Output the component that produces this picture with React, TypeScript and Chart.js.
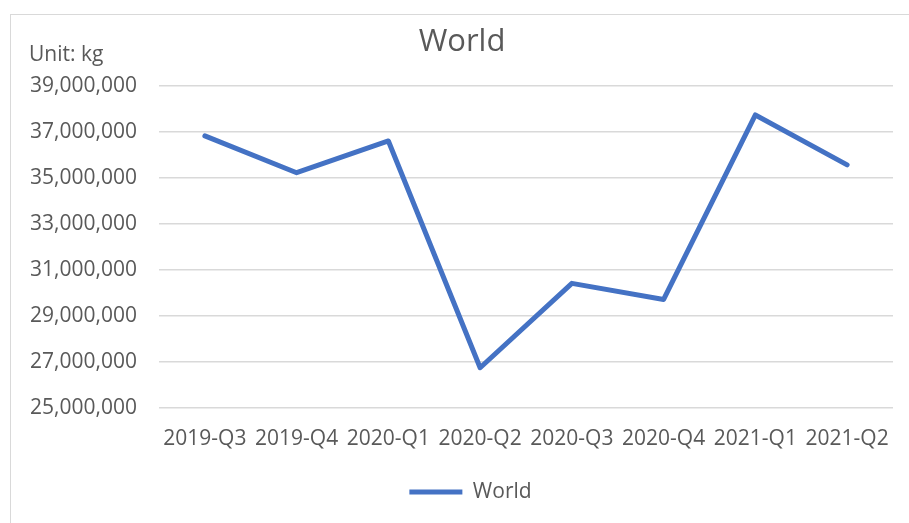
import React, { useEffect, useRef } from "react";
import { Chart, registerables } from "chart.js";

Chart.register(...registerables);

const categories = ["2019-Q3", "2019-Q4", "2020-Q1", "2020-Q2", "2020-Q3", "2020-Q4", "2021-Q1", "2021-Q2"];
const worldValues = [36830000, 35230000, 36610000, 26750000, 30420000, 29720000, 37740000, 35570000];
const seriesName = "World";
const chartTitle = "World";
const unitLabel = "Unit: kg";
const yMin = 25000000;
const yMax = 39000000;
const yStep = 2000000;

const FONT = "'Open Sans', 'Noto Sans', sans-serif";
const TEXT = "#595959";
const LINE = "#4472C4";
const GRID = "#d9d9d9";

const unitPlugin = {
  id: "unitLabel",
  afterLayout(chart: any) {
    // nudge the legend to the right, as in the reference
    if (chart.legend) {
      chart.legend.left += 8.5;
      chart.legend.right += 8.5;
    }
  },
  afterDraw(chart: any) {
    const ctx = chart.ctx;
    ctx.save();
    ctx.font = `21px ${FONT}`;
    ctx.fillStyle = TEXT;
    ctx.textAlign = "left";
    ctx.textBaseline = "alphabetic";
    ctx.fillText(unitLabel, 29, 60.5);
    ctx.restore();
  },
};

export default function App() {
  const ref = useRef<HTMLCanvasElement | null>(null);
  useEffect(() => {
    if (!ref.current) return;
    const chart = new Chart(ref.current, {
      type: "line",
      data: {
        labels: categories,
        datasets: [
          {
            label: seriesName,
            data: worldValues,
            borderColor: LINE,
            backgroundColor: LINE,
            borderWidth: 5,
            pointRadius: 0,
            pointHoverRadius: 0,
            tension: 0,
            borderCapStyle: "round",
            borderJoinStyle: "round",
            fill: false,
          },
        ],
      },
      options: {
        responsive: false,
        animation: false,
        layout: { padding: { left: 31, right: 16, top: 0, bottom: 10.5 } },
        plugins: {
          title: {
            display: true,
            text: chartTitle,
            color: TEXT,
            font: { family: FONT, size: 31, weight: "normal" },
            padding: { top: 23.4, bottom: 25.4 },
          },
          legend: {
            display: true,
            position: "bottom",
            labels: {
              color: TEXT,
              font: { family: FONT, size: 21 },
              usePointStyle: true,
              pointStyle: "line",
              pointStyleWidth: 53,
              padding: 10,
            },
          },
          tooltip: { enabled: false },
        },
        scales: {
          x: {
            offset: true,
            grid: { display: false, drawTicks: false },
            border: { display: false },
            ticks: {
              color: TEXT,
              font: { family: FONT, size: 21 },
              padding: 18,
              maxRotation: 0,
              autoSkip: false,
            },
            afterFit(scale: any) {
              scale.height = 63.5;
            },
          },
          y: {
            min: yMin,
            max: yMax,
            grid: { color: GRID, lineWidth: 1.5, drawTicks: false },
            border: { display: false },
            ticks: {
              stepSize: yStep,
              color: TEXT,
              font: { family: FONT, size: 21 },
              padding: 22,
              callback: (v: any) => Number(v).toLocaleString("en-US"),
            },
            afterFit(scale: any) {
              scale.width = 128;
            },
          },
        },
      },
      plugins: [unitPlugin],
    });
    return () => chart.destroy();
  }, []);

  return (
    <div style={{ position: "fixed", left: 0, top: 0, width: 909, height: 523, overflow: "hidden", background: "#fff" }}>
      <div
        style={{
          position: "absolute",
          left: 10,
          top: 14,
          width: 920,
          height: 540,
          borderTop: "1.5px solid #d9d9d9",
          borderLeft: "1.5px solid #d9d9d9",
        }}
      />
      <canvas ref={ref} width={909} height={523} style={{ position: "absolute", left: 0, top: 0 }} />
    </div>
  );
}
